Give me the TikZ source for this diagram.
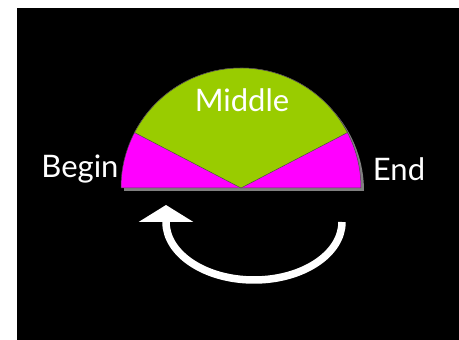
\documentclass[tikz,border=0pt]{standalone}
\usepackage{fontspec}
\setmainfont{Lato}
\usetikzlibrary{arrows.meta}
\definecolor{wedgegreen}{HTML}{99CC00}
\definecolor{wedgepink}{HTML}{FF00FF}
\tikzset{
  label/.style={text=white, font=\fontsize{31}{31}\selectfont, inner sep=0pt},
  wedge/.style={draw=black!70, line width=0.5pt}
}
\begin{document}
\begin{tikzpicture}[x=1pt,y=1pt]
\useasboundingbox (0,0) rectangle (459,340);
\fill[white] (0,0) rectangle (459,340);
\fill[black] (17,0) rectangle (459,332);
\coordinate (c) at (241,152);
% shadow and half disc
\fill[gray] (244,149) ++(0:120) arc[start angle=0,end angle=180,radius=120] -- cycle;
\path[fill=wedgepink,wedge] (c) ++(0:120) arc[start angle=0,end angle=180,radius=120] -- cycle;
\path[fill=wedgegreen,wedge] (c) -- ++(27.5:120) arc[start angle=27.5,end angle=152.5,radius=120] -- cycle;
\node[label] (middle) at (242,240) {Middle};
\node[label] (begin) at (80,171) {Begin};
\node[label] (end) at (399,171) {End};
% loop arrow
\coordinate (loopstart) at (342,118);
\coordinate (loopend) at (166,135);
\draw[white, line width=7.5pt, -{Triangle[width=54pt,length=17pt]}] (loopstart) arc[start angle=0,end angle=-180,x radius=88,y radius=58] -- (loopend);
\end{tikzpicture}
\end{document}
